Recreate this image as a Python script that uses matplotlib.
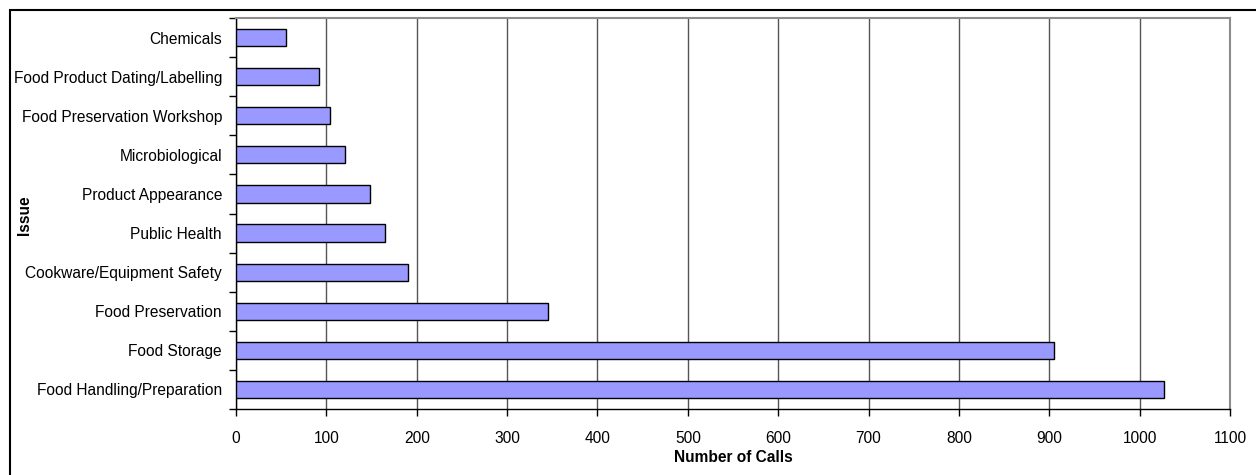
import matplotlib
matplotlib.use("Agg")
import matplotlib.pyplot as plt
from matplotlib.patches import Rectangle

plt.rcParams['font.family'] = ['Liberation Sans', 'DejaVu Sans']

categories = [
    "Food Handling/Preparation",
    "Food Storage",
    "Food Preservation",
    "Cookware/Equipment Safety",
    "Public Health",
    "Product Appearance",
    "Microbiological",
    "Food Preservation Workshop",
    "Food Product Dating/Labelling",
    "Chemicals",
]
calls = [1027, 905, 345, 190, 165, 148, 121, 104, 92, 55]
xticks = list(range(0, 1101, 100))

W, H = 1256, 475
fig = plt.figure(figsize=(W / 100, H / 100), dpi=100)
ax = fig.add_axes([236 / W, 1 - 409 / H, (1230 - 236) / W, (409 - 18) / H])

pos = list(range(len(categories)))
ax.barh(pos, calls, height=0.44, color='#9999FF', edgecolor='black', linewidth=1.0, zorder=3)

ax.set_xlim(0, 1100)
ax.set_ylim(-0.5, len(categories) - 0.5)
ax.set_xticks(xticks)
ax.set_xticklabels([str(t) for t in xticks], fontsize=11.2)
ax.set_yticks(pos)
ax.set_yticklabels(categories, fontsize=11.2)
ax.tick_params(axis='y', length=0, pad=10)
ax.set_yticks([p - 0.5 for p in pos] + [len(categories) - 0.5], minor=True)
ax.tick_params(axis='y', which='minor', length=5, width=1, direction='out')
ax.tick_params(axis='x', length=5, width=1, direction='out', pad=11)

ax.grid(axis='x', color='#555555', linewidth=1.0, zorder=0)
ax.set_axisbelow(True)
for s in ['top', 'right']:
    ax.spines[s].set_color('#8c8c8c')
    ax.spines[s].set_linewidth(1.5)
for s in ['left', 'bottom']:
    ax.spines[s].set_color('black')
    ax.spines[s].set_linewidth(1.0)

ax.set_xlabel("Number of Calls", fontsize=11.2, fontweight='bold', labelpad=3)
fig.text(25 / W, 1 - 215 / H, "Issue", rotation=90, fontsize=11.2, fontweight='bold',
         ha='center', va='center')

fig.add_artist(Rectangle((10 / W, -0.2), 2, 1.2 - 10 / H, transform=fig.transFigure,
                         fill=False, edgecolor='black', linewidth=1.5))

fig.savefig("out.png", dpi=100)
